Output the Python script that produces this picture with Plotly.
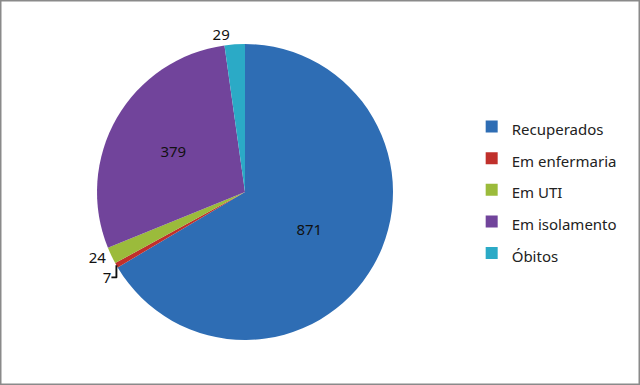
import plotly.graph_objects as go

categories = ["Recuperados", "Em enfermaria", "Em UTI", "Em isolamento", "Óbitos"]
values = [871, 7, 24, 379, 29]
colors = ["#2E6DB4", "#C0302B", "#9BBB3B", "#71449B", "#2BAAC6"]
text_pos = ["inside", "outside", "outside", "inside", "outside"]

legend_labels = ['<span style="font-size:15px">%s</span>' % c for c in categories]

fig = go.Figure(go.Pie(
    labels=legend_labels,
    values=values,
    marker=dict(colors=colors, line=dict(color="white", width=0)),
    sort=False,
    direction="clockwise",
    rotation=0,
    textinfo="value",
    textposition=text_pos,
    insidetextorientation="horizontal",
    textfont=dict(family="Noto Sans", size=15, color="#111111"),
    outsidetextfont=dict(family="Noto Sans", size=15, color="#111111"),
    insidetextfont=dict(family="Noto Sans", size=15, color="#111111"),
    domain=dict(x=[96/640, 394/640], y=[45/385, 341/385]),
    hoverinfo="label+value",
))

fig.update_layout(
    width=640, height=385,
    margin=dict(l=0, r=0, t=0, b=0),
    paper_bgcolor="white",
    font=dict(family="Noto Sans", color="#222222"),
    showlegend=True,
    legend=dict(
        x=0.737, y=0.507, xanchor="left", yanchor="middle",
        font=dict(family="Noto Sans", size=22, color="#222222"),
        bgcolor="rgba(0,0,0,0)",
    ),
    shapes=[dict(type="rect", xref="paper", yref="paper", x0=0, y0=0, x1=1, y1=1,
                 line=dict(color="#8a8a8a", width=3))],
)

fig.write_html("out.html", config={"displayModeBar": False},
               post_script="document.body.style.margin='0';document.body.style.overflow='hidden';")
